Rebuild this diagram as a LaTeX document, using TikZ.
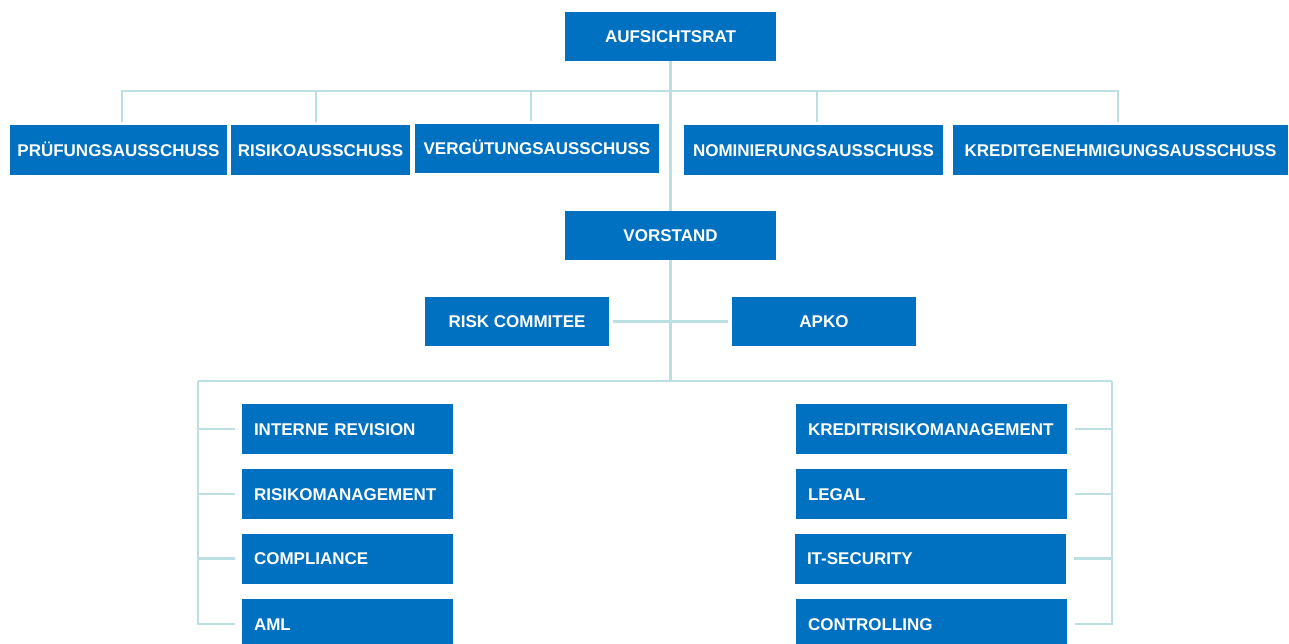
\documentclass[tikz,border=0pt]{standalone}
\usepackage{fontspec}
\setmainfont{Liberation Sans}
\definecolor{boxblue}{RGB}{0,112,192}
\definecolor{linecol}{RGB}{188,223,227}

\begin{document}
\begin{tikzpicture}[x=1pt, y=-1pt,
    box/.style={draw=none, fill=boxblue, text=white, inner sep=0pt,
        font=\fontsize{17}{20}\selectfont\bfseries, minimum height=50pt,
        text height=12.5pt, text depth=0pt},
    lbox/.style={box, inner xsep=12pt, text width=187pt, align=left},
    rbox/.style={box, inner xsep=12pt, text width=247pt, align=left},
    conn/.style={draw=linecol, line width=2.6pt}]
\useasboundingbox (0,0) rectangle (1289,644);
\clip (0,0) rectangle (1289,644);

\node[box, minimum width=211pt, minimum height=49pt] (aufsicht) at (670.5,36.5) {AUFSICHTSRAT};
\node[box, minimum width=217pt] (pruef) at (118.5,150) {PRÜFUNGSAUSSCHUSS};
\node[box, minimum width=179pt] (risiko) at (320.5,150) {RISIKOAUSSCHUSS};
\node[box, minimum width=244pt, minimum height=49pt] (verg) at (537,148.5) {VERGÜTUNGSAUSSCHUSS};
\node[box, minimum width=259pt] (nomin) at (813.5,150) {NOMINIERUNGSAUSSCHUSS};
\node[box, minimum width=335pt] (kredit) at (1120.5,150) {KREDITGENEHMIGUNGSAUSSCHUSS};
\node[box, minimum width=211pt, minimum height=49pt] (vorstand) at (670.5,235.5) {VORSTAND};
\node[box, minimum width=184pt, minimum height=49pt] (risk) at (517,321.5) {RISK COMMITEE};
\node[box, minimum width=184pt, minimum height=49pt] (apko) at (824,321.5) {APKO};

% linke Spalte
\node[lbox] (revision) at (347.5,429) {INTERNE REVISION};
\node[lbox] (risikoman) at (347.5,494) {RISIKOMANAGEMENT};
\node[lbox] (compliance) at (347.5,558.5) {COMPLIANCE};
\node[lbox] (aml) at (347.5,624) {AML};
% rechte Spalte
\node[rbox] (kreditrisiko) at (931.5,429) {KREDITRISIKOMANAGEMENT};
\node[rbox] (legal) at (931.5,494) {LEGAL};
\node[rbox] (itsec) at (930.5,558.5) {IT-SECURITY};
\node[rbox] (controlling) at (931.5,624) {CONTROLLING};

\coordinate (bar) at (671,91);
\coordinate (lbar) at (198,381);
\coordinate (rbar) at (1112,381);

% Ausschuesse
\draw[conn] (aufsicht.south) -- (vorstand.north);
\draw[conn, shorten <=3pt, shorten >=3pt] ([xshift=3.5pt]pruef.north) -- ([xshift=3.5pt]pruef.north |- bar)
  -- ([xshift=-2.5pt]kredit.north |- bar) -- ([xshift=-2.5pt]kredit.north);
\foreach \n/\dx in {risiko/-4.5, verg/-6, nomin/3.5}
  \draw[conn, shorten <=3pt] ([xshift=\dx pt]\n.north) -- ([xshift=\dx pt]\n.north |- bar);

% Vorstand
\draw[conn] (vorstand.south) -- (vorstand.south |- lbar);
\draw[conn, shorten <=4pt, shorten >=4pt] (risk.east) -- (apko.west);
\draw[conn] (lbar) -- (rbar);
\draw[conn] (lbar) |- ([xshift=-7pt]aml.west);
\draw[conn] (rbar) |- ([xshift=8pt]controlling.east);
\foreach \n in {revision, risikoman, compliance}
  \draw[conn, shorten <=7pt] (\n.west) -- (\n.west -| lbar);
\foreach \n in {kreditrisiko, legal, itsec}
  \draw[conn, shorten <=8pt] (\n.east) -- (\n.east -| rbar);
\end{tikzpicture}
\end{document}
